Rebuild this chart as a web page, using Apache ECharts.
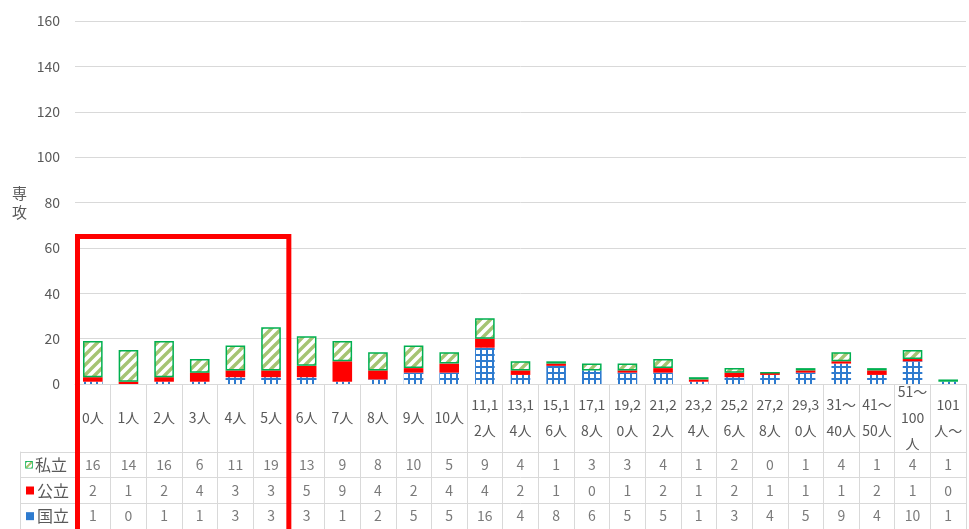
<!DOCTYPE html>
<html>
<head>
<meta charset="utf-8">
<title>専攻 人数別</title>
<script src="https://cdn.jsdelivr.net/npm/echarts@6/dist/echarts.min.js"></script>
<style>
  html, body { margin: 0; padding: 0; background: #fff; }
  #chart { width: 969px; height: 529px; }
</style>
</head>
<body>
<div id="chart"></div>
<script>
// カテゴリ（表示用に改行入り）
const categories = ['0人', '1人', '2人', '3人', '4人', '5人', '6人', '7人', '8人', '9人', '10人',
  '11,1\n2人', '13,1\n4人', '15,1\n6人', '17,1\n8人', '19,2\n0人', '21,2\n2人', '23,2\n4人',
  '25,2\n6人', '27,2\n8人', '29,3\n0人', '31～\n40人', '41～\n50人', '51～\n100\n人', '101\n人～']
const rowNames = ['私立', '公立', '国立']
const shiritsu = [16, 14, 16, 6, 11, 19, 13, 9, 8, 10, 5, 9, 4, 1, 3, 3, 4, 1, 2, 0, 1, 4, 1, 4, 1]
const kouritsu = [2, 1, 2, 4, 3, 3, 5, 9, 4, 2, 4, 4, 2, 1, 0, 1, 2, 1, 2, 1, 1, 1, 2, 1, 0]
const kokuritsu = [1, 0, 1, 1, 3, 3, 3, 1, 2, 5, 5, 16, 4, 8, 6, 5, 5, 1, 3, 4, 5, 9, 4, 10, 1]
const yTicks = [0, 20, 40, 60, 80, 100, 120, 140, 160]
// 赤枠（0人～5人）
const boxFrom = 0, boxTo = 5, boxTop = 65

const FONT = 'Noto Sans CJK JP'
const TXT = '#595959'
const LINE = '#d9d9d9'

// 斜線パターン
function hatchPattern() {
  const c = document.createElement('canvas')
  c.width = 10; c.height = 10
  const g = c.getContext('2d')
  g.fillStyle = '#fff'
  g.fillRect(0, 0, 10, 10)
  g.strokeStyle = '#a5c473'
  g.lineWidth = 3.4
  g.beginPath()
  g.moveTo(-5, 5); g.lineTo(5, -5)
  g.moveTo(0, 10); g.lineTo(10, 0)
  g.moveTo(5, 15); g.lineTo(15, 5)
  g.stroke()
  return c
}
// 格子パターン
function gridPattern() {
  const c = document.createElement('canvas')
  c.width = 6; c.height = 6
  const g = c.getContext('2d')
  g.fillStyle = '#fff'
  g.fillRect(0, 0, 6, 6)
  g.fillStyle = '#2e7bcf'
  g.fillRect(0, 0, 2, 6)
  g.fillRect(0, 0, 6, 2)
  return c
}
const hatchImg = hatchPattern()
const gridImg = gridPattern()

// 表の数値（散布図のラベルで描く）
function tableData(values, row) {
  return values.map((v, i) => [i, row, v])
}

const chart = echarts.init(document.getElementById('chart'))
chart.setOption({
  animation: false,
  textStyle: { fontFamily: FONT },
  grid: [
    { left: 75, right: 3, top: 21, height: 363 },
    { left: 75, right: 3, top: 452, height: 81 }
  ],
  xAxis: [{
    type: 'category',
    gridIndex: 0,
    data: categories,
    axisLine: { lineStyle: { color: LINE } },
    axisTick: { show: true, length: 68, lineStyle: { color: LINE } },
    axisLabel: {
      interval: 0, margin: 34, verticalAlign: 'middle',
      color: TXT, fontSize: 14, lineHeight: 26, fontFamily: FONT
    }
  }, {
    type: 'category',
    gridIndex: 1,
    data: categories,
    axisLine: { show: false },
    axisTick: { show: false },
    axisLabel: { show: false },
    splitLine: { show: true, lineStyle: { color: LINE } }
  }],
  yAxis: [{
    type: 'value',
    gridIndex: 0,
    min: yTicks[0],
    max: yTicks[yTicks.length - 1],
    interval: 20,
    name: '専\n攻',
    nameLocation: 'middle',
    nameRotate: 0,
    nameGap: 48,
    nameTextStyle: { color: TXT, fontSize: 15, lineHeight: 19, fontFamily: FONT },
    axisLabel: { color: TXT, fontSize: 14, margin: 15, fontFamily: FONT },
    splitLine: { lineStyle: { color: LINE } }
  }, {
    type: 'category',
    gridIndex: 1,
    data: rowNames,
    inverse: true,
    axisLine: { show: false },
    axisTick: { show: true, length: 55, lineStyle: { color: LINE } },
    splitLine: { show: true, lineStyle: { color: LINE } },
    axisLabel: {
      align: 'left',
      margin: 49,
      fontFamily: FONT,
      formatter: function (v) {
        const key = { '私立': 'a', '公立': 'b', '国立': 'c' }[v]
        return '{' + key + '| }{t|' + v + '}'
      },
      rich: {
        a: { width: 6, height: 6, lineHeight: 18, verticalAlign: 'middle', backgroundColor: { image: hatchImg }, borderColor: '#00b050', borderWidth: 1.5 },
        b: { width: 8, height: 8, lineHeight: 18, verticalAlign: 'middle', backgroundColor: '#ff0000' },
        c: { width: 8, height: 8, lineHeight: 18, verticalAlign: 'middle', backgroundColor: '#2e7bcf' },
        t: { color: TXT, fontSize: 16, lineHeight: 18, padding: [0, 0, 0, 3], fontFamily: FONT }
      }
    }
  }, {
    // 表の左端の線
    type: 'value',
    gridIndex: 1,
    position: 'left',
    offset: 55,
    axisLine: { show: true, lineStyle: { color: LINE } },
    axisLabel: { show: false },
    axisTick: { show: false },
    splitLine: { show: false }
  }],
  series: [{
    name: '国立',
    type: 'bar',
    stack: 'all',
    barWidth: '55%',
    data: kokuritsu,
    itemStyle: { color: { image: gridImg, repeat: 'repeat' } }
  }, {
    name: '公立',
    type: 'bar',
    stack: 'all',
    data: kouritsu,
    itemStyle: { color: '#ff0000' }
  }, {
    name: '私立',
    type: 'bar',
    stack: 'all',
    data: shiritsu,
    itemStyle: { color: { image: hatchImg, repeat: 'repeat' }, borderColor: '#00b050', borderWidth: 1.5 }
  }].concat([shiritsu, kouritsu, kokuritsu].map((vals, row) => ({
    type: 'scatter',
    xAxisIndex: 1,
    yAxisIndex: 1,
    symbolSize: 1,
    silent: true,
    itemStyle: { color: 'rgba(0,0,0,0)' },
    label: {
      show: true,
      position: 'inside',
      color: TXT,
      fontSize: 14,
      fontFamily: FONT,
      formatter: p => String(p.value[2])
    },
    data: tableData(vals, row)
  })))
})

// 赤枠を軸の座標から描く
const cFrom = chart.convertToPixel({ xAxisIndex: 0 }, boxFrom)
const cTo = chart.convertToPixel({ xAxisIndex: 0 }, boxTo)
const band = chart.convertToPixel({ xAxisIndex: 0 }, 1) - chart.convertToPixel({ xAxisIndex: 0 }, 0)
const boxLeft = cFrom - band / 2
const boxRight = cTo + band / 2
const boxY = chart.convertToPixel({ yAxisIndex: 0 }, boxTop)
chart.setOption({
  graphic: [{
    type: 'rect',
    z: 100,
    shape: { x: boxLeft + 2.5, y: boxY, width: boxRight - boxLeft - 2.5, height: 529 - boxY + 20 },
    style: { fill: 'none', stroke: '#ff0000', lineWidth: 5 }
  }]
})
</script>
</body>
</html>
